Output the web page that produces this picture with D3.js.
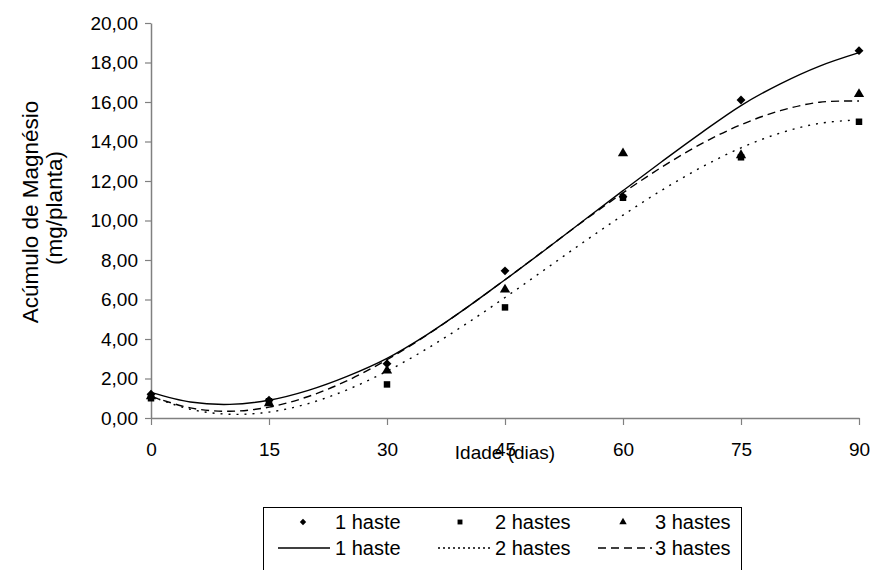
<!DOCTYPE html>
<html>
<head>
<meta charset="utf-8">
<script src="https://cdn.jsdelivr.net/npm/d3@7"></script>
<style>
    body { margin: 0; background: #fff; }
    svg { font-family: 'Liberation Sans', Arial, sans-serif; }
</style>
</head>
<body>
<div id="chart"></div>
<script>
const WIDTH = 870;
const HEIGHT = 570;

const MARGIN = {
    top: 23, right: 11, bottom: 152, left: 151
};

// dias de observação
const days = [0, 15, 30, 45, 60, 75, 90];

// valores observados (mg/planta)
const haste1 = [1.2, 0.9, 2.75, 7.45, 11.2, 16.1, 18.6];
const hastes2 = [1.0, 0.85, 1.7, 5.6, 11.15, 13.2, 15.0];
const hastes3 = [1.1, 0.75, 2.4, 6.5, 13.4, 13.3, 16.4];

// linhas de tendência, a cada 5 dias
const trendDays = [0, 5, 10, 15, 20, 25, 30, 35, 40, 45, 50, 55, 60, 65, 70, 75, 80, 85, 90];
const trend1 = [1.30, 0.81, 0.69, 0.90, 1.40, 2.12, 3.02, 4.20, 5.55, 7.00, 8.48, 10.00, 11.51, 13.00, 14.45, 15.82, 16.92, 17.82, 18.50];
const trend2 = [1.10, 0.44, 0.19, 0.30, 0.73, 1.44, 2.37, 3.49, 4.75, 6.10, 7.50, 8.91, 10.27, 11.55, 12.70, 13.68, 14.43, 14.92, 15.10];
const trend3 = [1.10, 0.51, 0.34, 0.55, 1.09, 1.90, 2.95, 4.18, 5.55, 7.00, 8.49, 9.98, 11.40, 12.72, 13.89, 14.85, 15.56, 15.99, 16.05];

const xTicks = [0, 15, 30, 45, 60, 75, 90];
const yTicks = [0, 2, 4, 6, 8, 10, 12, 14, 16, 18, 20];

const legendNames = ['1 haste', '2 hastes', '3 hastes'];

const AXIS_COLOR = '#808080';

const svg = d3.select('#chart').append('svg')
    .attr('width', WIDTH)
    .attr('height', HEIGHT);

const x = d3.scaleLinear()
    .domain([0, 90])
    .range([MARGIN.left, WIDTH - MARGIN.right]);

const y = d3.scaleLinear()
    .domain([0, 20])
    .range([HEIGHT - MARGIN.bottom, MARGIN.top]);

const fmt = d => d3.format('.2f')(d).replace('.', ',');

// eixo Y
const yAxis = svg.append('g')
    .attr('transform', `translate(${MARGIN.left}, 0)`)
    .call(d3.axisLeft(y).tickValues(yTicks).tickFormat(fmt).tickSize(6).tickSizeOuter(0).tickPadding(7));

// eixo X
const xAxis = svg.append('g')
    .attr('transform', `translate(0, ${HEIGHT - MARGIN.bottom})`)
    .call(d3.axisBottom(x).tickValues(xTicks).tickSize(7).tickSizeOuter(0).tickPadding(18));

[yAxis, xAxis].forEach(axis => {
    axis.select('.domain').attr('stroke', AXIS_COLOR).attr('stroke-width', 1.5);
    axis.selectAll('.tick line').attr('stroke', AXIS_COLOR).attr('stroke-width', 1.2);
    axis.selectAll('.tick text')
        .attr('fill', '#000')
        .attr('font-size', 19)
        .attr('font-family', "'Liberation Sans', Arial, sans-serif");
});

// título do eixo Y
svg.append('text')
    .attr('transform', 'translate(38, 212) rotate(-90)')
    .attr('text-anchor', 'middle')
    .attr('font-size', 22.5)
    .text('Acúmulo de Magnésio');

svg.append('text')
    .attr('transform', 'translate(62, 208) rotate(-90)')
    .attr('text-anchor', 'middle')
    .attr('font-size', 22.5)
    .text('(mg/planta)');

// título do eixo X
svg.append('text')
    .attr('x', 505)
    .attr('y', 459)
    .attr('text-anchor', 'middle')
    .attr('font-size', 19)
    .text('Idade (dias)');

// linhas de tendência
const line = d3.line()
    .x(d => x(d[0]))
    .y(d => y(d[1]))
    .curve(d3.curveCatmullRom);

const trends = [
    { values: trend1, dash: null },
    { values: trend2, dash: '2,6' },
    { values: trend3, dash: '8,5' }
];

trends.forEach(t => {
    svg.append('path')
        .attr('d', line(trendDays.map((d, i) => [d, t.values[i]])))
        .attr('fill', 'none')
        .attr('stroke', '#000')
        .attr('stroke-width', 1.4)
        .attr('stroke-dasharray', t.dash);
});

// marcadores
const symbols = [
    d3.symbol().type(d3.symbolDiamond2).size(50),
    d3.symbol().type(d3.symbolSquare).size(42),
    d3.symbol().type(d3.symbolTriangle).size(46)
];

const series = [haste1, hastes2, hastes3];

series.forEach((values, s) => {
    svg.append('g')
        .selectAll('path')
        .data(days.map((d, i) => [d, values[i]]))
        .join('path')
        .attr('transform', d => `translate(${x(d[0])}, ${y(d[1])})`)
        .attr('d', symbols[s])
        .attr('fill', '#000');
});

// legenda
const legend = svg.append('g');

legend.append('rect')
    .attr('x', 263.5)
    .attr('y', 507.5)
    .attr('width', 478)
    .attr('height', 70)
    .attr('fill', '#fff')
    .attr('stroke', '#000')
    .attr('stroke-width', 1);

const legendSymbolX = [303, 460, 623];
const legendLineX = [[278, 330], [438, 490], [598, 652]];
const legendTextX = [335, 495, 655];
const legendDash = [null, '2,3', '8,5'];
const legendSymbols = [
    d3.symbol().type(d3.symbolDiamond2).size(26),
    d3.symbol().type(d3.symbolSquare).size(24),
    d3.symbol().type(d3.symbolTriangle).size(24)
];

legendNames.forEach((name, i) => {
    legend.append('path')
        .attr('transform', `translate(${legendSymbolX[i]}, 522)`)
        .attr('d', legendSymbols[i])
        .attr('fill', '#000');
    legend.append('text')
        .attr('x', legendTextX[i])
        .attr('y', 529)
        .attr('font-size', 20)
        .text(name);

    legend.append('line')
        .attr('x1', legendLineX[i][0])
        .attr('x2', legendLineX[i][1])
        .attr('y1', 548)
        .attr('y2', 548)
        .attr('stroke', '#000')
        .attr('stroke-width', 1.3)
        .attr('stroke-dasharray', legendDash[i]);
    legend.append('text')
        .attr('x', legendTextX[i])
        .attr('y', 555)
        .attr('font-size', 20)
        .text(name);
});
</script>
</body>
</html>
